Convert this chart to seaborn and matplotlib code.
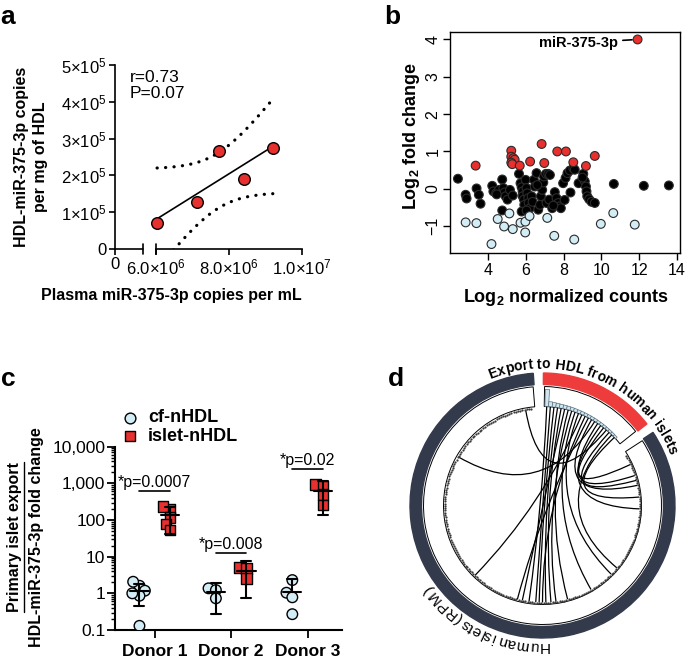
import numpy as np
import pandas as pd
import matplotlib
matplotlib.use('Agg')
import matplotlib.pyplot as plt
import seaborn as sns
from matplotlib.patches import Wedge, PathPatch
from matplotlib.path import Path
from matplotlib.font_manager import FontProperties
from matplotlib.textpath import TextToPath
from matplotlib.lines import Line2D
from matplotlib.ticker import LogLocator, NullFormatter

sns.set_style('ticks', rc={'axes.edgecolor': 'black', 'text.color': 'black',
                           'xtick.color': 'black', 'ytick.color': 'black',
                           'axes.labelcolor': 'black'})
plt.rcParams['font.family'] = ['Liberation Sans', 'DejaVu Sans']
plt.rcParams['mathtext.fontset'] = 'custom'
plt.rcParams['mathtext.rm'] = 'Liberation Sans'
plt.rcParams['mathtext.bf'] = 'Liberation Sans:bold'
plt.rcParams['mathtext.it'] = 'Liberation Sans:italic'

# ---------------- data ----------------
# panel a
plasma_copies = [6.03e6, 7.12e6, 7.73e6, 8.41e6, 9.20e6]
hdl_copies = [0.70e5, 1.28e5, 2.66e5, 1.90e5, 2.74e5]

# panel b
black_x = [2.39, 2.80, 2.85, 3.38, 3.50, 3.59, 4.21, 4.27, 4.41, 4.57, 4.74, 4.80, 4.86, 4.92,
           5.02, 4.74, 5.15, 5.63, 5.71, 5.77, 5.82, 5.82, 5.89, 5.91, 5.98, 6.03, 6.07, 6.12,
           6.14, 6.21, 6.30, 6.35, 6.42, 6.47, 6.56, 6.65, 6.74, 6.79, 6.86, 6.92, 6.95, 7.06,
           7.18, 7.27, 7.09, 7.23, 7.39, 7.53, 7.62, 7.71, 7.80, 7.85, 7.97, 8.10, 8.20, 8.33,
           8.51, 8.59, 8.36, 8.79, 9.04, 9.12, 9.18, 9.21, 9.25, 9.35, 9.48, 9.65, 10.66, 12.25,
           13.58, 5.77, 6.03, 4.45, 5.30, 6.60, 7.45, 8.05, 9.00]
black_y = [0.27, -0.16, -0.26, 0.01, -0.16, -0.40, 0.08, -0.07, -0.12, -0.03, 0.25, 0.02, -0.10,
           -0.20, -0.29, -0.58, -0.03, 0.40, 0.15, 0.04, -0.07, -0.20, -0.29, -0.43, 0.24, 0.02,
           -0.12, -0.25, -0.38, -0.52, -0.20, -0.35, 0.24, 0.06, 0.42, -0.56, -0.43, -0.20, -0.03,
           0.17, 0.33, 0.40, 0.40, 0.37, -0.38, -0.29, -0.52, -0.09, -0.25, -0.38, -0.47, -0.52,
           0.15, 0.29, 0.42, 0.49, 0.55, 0.51, -0.10, 0.15, 0.40, 0.20, 0.06, -0.07, -0.20, -0.28,
           -0.35, -0.38, 0.13, 0.08, 0.09, -0.61, -0.58, -0.15, -0.18, 0.10, -0.45, -0.30, 0.30]
red_x = [3.33, 5.22, 5.22, 5.33, 5.40, 5.22, 5.27, 5.67, 6.22, 6.83, 6.97, 7.66, 8.12, 8.51,
         9.18, 9.65, 11.92]
red_y = [0.62, 1.02, 0.86, 0.82, 0.78, 0.70, 0.66, 0.62, 0.73, 1.20, 0.69, 1.00, 1.00, 0.71,
         0.61, 0.88, 4.00]
blue_x = [2.80, 3.37, 4.50, 4.84, 5.12, 5.30, 5.71, 5.97, 5.96, 6.19, 7.13, 7.50, 8.56, 4.17,
          9.97, 10.63, 11.77]
blue_y = [-0.90, -0.92, -0.81, -1.01, -0.66, -1.08, -0.91, -0.88, -1.17, -0.73, -0.78, -1.26,
          -1.36, -1.48, -0.94, -0.65, -0.96]

# panel c
donors = ['Donor 1', 'Donor 2', 'Donor 3']
groups = ['cf-nHDL', 'islet-nHDL']
d1_cf = [1.61, 2.07, 1.18, 0.86, 0.13, 1.0]
d1_islet = [200, 230, 118, 78, 53]
d2_cf = [1.37, 1.23, 0.73]
d2_islet = [5.0, 4.8, 2.56]
d3_cf = [2.3, 1.04, 0.78, 0.27]
d3_islet = [936, 846, 502, 255]
p_labels = ['*p=0.0007', '*p=0.008', '*p=0.02']
p_line_y = [630, 12.3, 2400]

# panel d
export_rpm = [100, 24, 21, 19, 17, 16, 15, 14, 13, 12, 11.5, 11, 10.5, 10, 9.5, 9, 8.5, 8, 7.5,
              7, 6.5, 6]
islet_angle = [262, 266, 268, 272, 275, 258, 285, 278, 300, 315, 226, 270, 255, 12, 150, 358,
               18, 25, 100, 15, 320, 5]

T95 = {1: 12.706, 2: 4.303, 3: 3.182, 4: 2.776, 5: 2.571, 6: 2.447}

# ---------------- figure ----------------
W, H = 685, 658
fig = plt.figure(figsize=(W / 100, H / 100), dpi=100)


def px_axes(l, t, r, b):
    return fig.add_axes([l / W, 1 - b / H, (r - l) / W, (b - t) / H])


def ftext(x, y, s, **kw):
    return fig.text(x / W, 1 - y / H, s, **kw)


RED = '#e8312f'
LBLUE = '#d3edf6'
NAVY = '#333a4c'

# ---------- panel a ----------
ax_a = px_axes(115, 65, 302, 249)
xpx = 2e6 / 73
xlo = 6e6 - 41 * xpx
ax_a.set_xlim(xlo, 1e7)
ax_a.set_ylim(0, 5e5)

xa = np.array(plasma_copies)
ya = np.array(hdl_copies)
slope, inter = np.polyfit(xa, ya, 1)
xs = np.linspace(xa.min(), xa.max(), 200)
yfit = slope * xs + inter
n = len(xa)
s_res = np.sqrt(np.sum((ya - (slope * xa + inter)) ** 2) / (n - 2))
sxx = np.sum((xa - xa.mean()) ** 2)
half = T95[n - 2] * s_res * np.sqrt(1 / n + (xs - xa.mean()) ** 2 / sxx)
ax_a.plot(xs, yfit, color='black', lw=1.2, zorder=3)
for band in (yfit + half, yfit - half):
    ax_a.plot(xs, band, color='black', lw=2.3, linestyle=(0, (0.05, 2.6)),
              dash_capstyle='round', zorder=3)
sns.scatterplot(x=xa, y=ya, ax=ax_a, s=70, color=RED, edgecolor='black', linewidth=1,
                zorder=4, clip_on=False)

for side in ('top', 'right'):
    ax_a.spines[side].set_visible(False)
ax_a.spines['left'].set_linewidth(1.2)
ax_a.spines['bottom'].set_linewidth(1.2)
ax_a.spines['bottom'].set_bounds(6e6, 1e7)
xbrk = xlo + 28 * xpx
ax_a.plot([xlo, xbrk], [0, 0], color='black', lw=1.2, clip_on=False)
for xb in (xbrk, 6e6):
    ax_a.plot([xb, xb], [-0.025, 0.025], color='black', lw=1.2, clip_on=False,
              transform=ax_a.get_xaxis_transform())
ax_a.set_xticks([xlo, 6e6, 8e6, 1e7])
ax_a.set_xticklabels(['0', r'$6.0{\times}10^{6}$', r'$8.0{\times}10^{6}$', r'$1.0{\times}10^{7}$'])
ax_a.set_yticks([0, 1e5, 2e5, 3e5, 4e5, 5e5])
ax_a.set_yticklabels(['0'] + [r'$%d{\times}10^{5}$' % k for k in range(1, 6)])
ax_a.tick_params(direction='out', length=4, width=1.2, labelsize=12, pad=2)
ax_a.text(0.08, 0.975, 'r=0.73\nP=0.07', transform=ax_a.transAxes, fontsize=12.5,
          va='top', ha='left', linespacing=1.1)
ftext(31, 157, 'HDL-miR-375-3p copies\nper mg of HDL', rotation=90, ha='center',
      va='center', fontsize=11.5, fontweight='bold', linespacing=1.3)
ftext(171, 296, 'Plasma miR-375-3p copies per mL', ha='center', va='center',
      fontsize=11.5, fontweight='bold')

# ---------- panel b ----------
ax_b = px_axes(450, 32, 680, 253)
df_b = pd.concat([
    pd.DataFrame({'x': black_x, 'y': black_y, 'grp': 'ns'}),
    pd.DataFrame({'x': red_x, 'y': red_y, 'grp': 'up'}),
    pd.DataFrame({'x': blue_x, 'y': blue_y, 'grp': 'down'}),
])
sns.scatterplot(data=df_b, x='x', y='y', hue='grp', palette={'ns': 'black', 'up': RED, 'down': LBLUE},
                s=40, edgecolor='#2b2b2b', linewidth=0.8, legend=False, ax=ax_b, zorder=3)
ax_b.set_xlim(1.97, 14.17)
ax_b.set_ylim(-1.72, 4.2)
ax_b.set_xticks([4, 6, 8, 10, 12, 14])
ax_b.set_yticks([-1, 0, 1, 2, 3, 4])
ax_b.tick_params(direction='out', length=5, width=1, labelsize=11.5, pad=2)
for lab in ax_b.get_yticklabels():
    lab.set_rotation(90)
    lab.set_va('center')
for sp in ax_b.spines.values():
    sp.set_linewidth(1)
ax_b.set_xlabel('')
ax_b.set_ylabel('')
ax_b.annotate('miR-375-3p', xy=(red_x[-1], red_y[-1]), xytext=(-14, -2.5),
              textcoords='offset points', ha='right', va='center', fontsize=10.5,
              fontweight='bold',
              arrowprops=dict(arrowstyle='-', color='black', lw=1.2, shrinkA=1, shrinkB=4))
ftext(412, 136, r'Log$_\mathbf{2}$ fold change', rotation=90, ha='center', va='center',
      fontsize=13, fontweight='bold')
ftext(566, 297, r'Log$_\mathbf{2}$ normalized counts', ha='center', va='center',
      fontsize=13, fontweight='bold')

# ---------- panel c ----------
ax_c = px_axes(115, 446.7, 342, 630)
rows = []
for d, cf, isl in zip(donors, [d1_cf, d2_cf, d3_cf], [d1_islet, d2_islet, d3_islet]):
    rows += [(d, groups[0], v) for v in cf]
    rows += [(d, groups[1], v) for v in isl]
df_c = pd.DataFrame(rows, columns=['donor', 'group', 'value'])
pal_c = {groups[0]: LBLUE, groups[1]: RED}
for g, mk in zip(groups, ['o', 's']):
    sns.swarmplot(data=df_c[df_c['group'] == g], x='donor', y='value', hue='group',
                  order=donors, hue_order=groups, dodge=True, palette=pal_c, marker=mk,
                  size=4.2, edgecolor='black', linewidth=1, log_scale=True, legend=False,
                  ax=ax_c, zorder=3)
swarm_colls = list(ax_c.collections)
ax_c.set_ylim(0.1, 10000)
ax_c.set_xlim(-0.52, 2.45)
for i, d in enumerate(donors):
    for j, g in enumerate(groups):
        vals = df_c[(df_c['donor'] == d) & (df_c['group'] == g)]['value'].to_numpy()
        m = vals.mean()
        ci = T95[len(vals) - 1] * vals.std(ddof=1) / np.sqrt(len(vals))
        xc = i + (-0.2 if j == 0 else 0.2)
        lo = m - ci if m - ci > 0 else m
        ax_c.plot([xc - 0.12, xc + 0.12], [m, m], color='black', lw=1.5, zorder=5)
        ax_c.plot([xc, xc], [lo, m + ci], color='black', lw=1.5, zorder=5)
        ax_c.plot([xc - 0.065, xc + 0.065], [m + ci, m + ci], color='black', lw=1.5, zorder=5)
        if m - ci > 0:
            ax_c.plot([xc - 0.065, xc + 0.065], [lo, lo], color='black', lw=1.5, zorder=5)
    ax_c.plot([i - 0.2, i + 0.2], [p_line_y[i], p_line_y[i]], color='black', lw=1.2)
    ax_c.annotate(p_labels[i], xy=(i, p_line_y[i]), xytext=(0, 3), textcoords='offset points',
                  ha='center', va='baseline', fontsize=11.5)
ax_c.set_yticks([0.1, 1, 10, 100, 1000, 10000])
ax_c.set_yticklabels(['0.1', '1', '10', '100', '1,000', '10,000'])
ax_c.yaxis.set_minor_locator(LogLocator(base=10, subs=np.arange(2, 10)))
ax_c.yaxis.set_minor_formatter(NullFormatter())
ax_c.tick_params(axis='y', which='major', direction='out', length=6, width=1.3, labelsize=12.5, pad=1)
ax_c.tick_params(axis='y', which='minor', direction='out', length=3, width=1)
ax_c.tick_params(axis='x', direction='out', length=6, width=1.3, labelsize=12.5, pad=4)
for lab in ax_c.get_xticklabels():
    lab.set_fontweight('bold')
for side in ('top', 'right'):
    ax_c.spines[side].set_visible(False)
for side in ('left', 'bottom'):
    ax_c.spines[side].set_linewidth(1.5)
ax_c.set_xlabel('')
ax_c.set_ylabel('')
# legend
ax_c.scatter([0.066], [1.157], transform=ax_c.transAxes, s=60, marker='o', color=LBLUE,
             edgecolor='black', linewidth=1, clip_on=False)
ax_c.scatter([0.066], [1.058], transform=ax_c.transAxes, s=60, marker='s', color=RED,
             edgecolor='black', linewidth=1, clip_on=False)
ax_c.text(0.145, 1.157, groups[0], transform=ax_c.transAxes, va='center', ha='left',
          fontsize=13, fontweight='bold')
ax_c.text(0.145, 1.058, groups[1], transform=ax_c.transAxes, va='center', ha='left',
          fontsize=13, fontweight='bold')
t_under = ftext(15, 537, 'Primary islet export', rotation=90, ha='center', va='center',
                fontsize=11.5, fontweight='bold')
ftext(37, 537, 'HDL-miR-375-3p fold change', rotation=90, ha='center', va='center',
      fontsize=11.5, fontweight='bold')

# ---------- panel d ----------
ax_d = px_axes(395, 355, 685, 658)
cx, cy = 542.5, 505.5
ax_d.set_xlim(395 - cx, 685 - cx)
ax_d.set_ylim(cy - 658, cy - 355)
ax_d.axis('off')


def pol(r, deg):
    a = np.deg2rad(deg)
    return r * np.cos(a), r * np.sin(a)


ax_d.add_patch(Wedge((0, 0), 132.5, 94, 393.5, width=11.5, color=NAVY))
ax_d.add_patch(Wedge((0, 0), 132.5, 38, 89.6, width=11.5, color='#ee3b3b'))
ax_d.add_patch(Wedge((0, 0), 119, 94.5, 393, width=20, fc='white', ec='black', lw=0.7))
ax_d.add_patch(Wedge((0, 0), 119, 38.5, 89, width=20, fc='white', ec='black', lw=0.7))

bar_w = 2.1
for k, v in enumerate(export_rpm):
    a1 = 88.6 - k * bar_w
    hgt = 1.2 + 16 * v / max(export_rpm)
    ax_d.add_patch(Wedge((0, 0), 99 + hgt, a1 - bar_w, a1, width=hgt, fc='#cfe6ef',
                         ec='#5b7080', lw=0.5))

dot_ang = np.arange(96.5, 391, 1.35)
dx, dy = pol(97.5, dot_ang)
ax_d.plot(dx, dy, 'o', ms=1.6, color='#3a3a3a', mec='none')

for k, tgt in enumerate(islet_angle):
    src = 88.6 - (k + 0.5) * bar_w
    p0 = pol(99, src)
    p2 = pol(97, tgt)
    path = Path([p0, (0, 0), p2], [Path.MOVETO, Path.CURVE3, Path.CURVE3])
    ax_d.add_patch(PathPatch(path, fc='none', ec='black', lw=0.9))

ttp = TextToPath()


def arc_text(s, r, center_deg, size, weight):
    prop = FontProperties(family='Liberation Sans', size=size, weight=weight)
    base = ttp.get_text_width_height_descent('xx', prop, ismath=False)[0]
    adv = [(ttp.get_text_width_height_descent('x' + ch + 'x', prop, ismath=False)[0] - base)
           * 100 / 72 for ch in s]
    total = sum(adv)
    start = np.deg2rad(center_deg) + total / 2 / r
    pos = 0
    for ch, a in zip(s, adv):
        th = start - (pos + a / 2) / r
        pos += a
        x, y = r * np.cos(th), r * np.sin(th)
        ax_d.text(x, y, ch, rotation=np.rad2deg(th) - 90, rotation_mode='anchor',
                  ha='center', va='baseline', fontproperties=prop)


arc_text('Export to HDL from human islets', 137, 67, 10, 'bold')
arc_text('Human islets (RPM)', 137, 244, 11, 'normal')

# panel letters
for (lx, ly, s) in [(8, 24, 'a'), (392, 24, 'b'), (8, 386, 'c'), (396, 386, 'd')]:
    ftext(lx, ly, s, ha='center', va='baseline', fontsize=19, fontweight='bold')

# first draw lays out the swarms with small markers; then freeze them and enlarge markers
fig.canvas.draw()
for coll in swarm_colls:
    if 'draw' in coll.__dict__:
        del coll.__dict__['draw']
    coll.set_sizes([58])

# underline of first y-label line in panel c
bb = t_under.get_window_extent()
fig.add_artist(Line2D([(bb.x1 + 1) / W] * 2, [bb.y0 / H, bb.y1 / H], color='black', lw=1))

fig.savefig('out.png', dpi=100)
